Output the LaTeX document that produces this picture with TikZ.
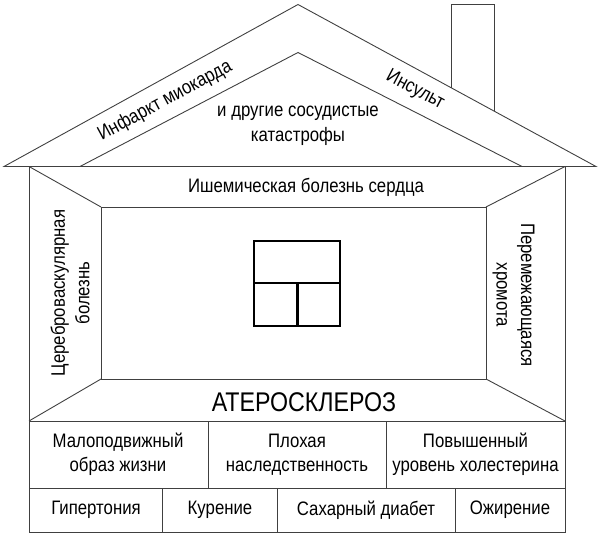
\documentclass[tikz,border=0pt]{standalone}
\usepackage{fontspec}
\setmainfont{Liberation Sans}[FakeStretch=0.86]
\begin{document}
\begin{tikzpicture}[x=1pt,y=-1pt,
  edge/.style={draw=black!75, line width=0.9pt, line join=miter},
  win/.style={draw=black, line width=2.2pt},
  lbl/.style={inner sep=0pt, align=center, font=\fontsize{19.5}{24.5}\selectfont},
  big/.style={inner sep=0pt, font=\fontsize{27}{31}\selectfont}]
\useasboundingbox (0,0) rectangle (600,537);
% key points
\coordinate (eL) at (4,166.5);
\coordinate (eR) at (596,166.5);
\coordinate (apex) at (298,4.5);
\coordinate (iL) at (80,166.5);
\coordinate (iApex) at (298,52.5);
\coordinate (iR) at (522,166.5);
\coordinate (wTL) at (29,166.5);
\coordinate (wTR) at (565,166.5);
\coordinate (wBL) at (29,532);
\coordinate (wBR) at (565,532);
\coordinate (rTL) at (101,207);
\coordinate (rTR) at (486,207);
\coordinate (rBL) at (101,379);
\coordinate (rBR) at (486,379);
\coordinate (bL) at (29,421);
\coordinate (bR) at (565,421);
\coordinate (mL) at (29,488);
\coordinate (mR) at (565,488);
% roof
\path[edge] (eL) -- (apex) -- (eR) -- cycle;
\path[edge] (iL) -- (iApex) -- (iR);
% chimney
\path[edge] (451,87.7) -- (451,4.5) -- (494,4.5) -- (494,111.0);
% walls
\path[edge] (wTL) -- (wBL) -- (wBR) -- (wTR);
% inner room
\path[edge] (rTL) rectangle (rBR);
\path[edge] (wTL) -- (rTL);
\path[edge] (wTR) -- (rTR);
\path[edge] (bL) -- (rBL);
\path[edge] (bR) -- (rBR);
\path[edge] (bL) -- (bR);
\path[edge] (mL) -- (mR);
% dividers
\path[edge] (208,421) -- (208,488);
\path[edge] (386,421) -- (386,488);
\path[edge] (162.5,488) -- (162.5,532);
\path[edge] (277,488) -- (277,532);
\path[edge] (455.5,488) -- (455.5,532);
% window
\path[win] (254,241) rectangle (340,326);
\path[win] (254,283) -- (340,283);
\path[win] (297.5,283) -- (297.5,326);
% texts
\node[lbl, rotate=28.3] (infarkt) at (165,101) {Инфаркт миокарда};
\node[lbl, rotate=-28] (insult) at (415,90) {Инсульт};
\node[lbl] (drugie) at (298,126) {и другие сосудистые\\катастрофы};
\node[lbl] (ibs) at (306,187) {Ишемическая болезнь сердца};
\node[lbl, rotate=90] (cvb) at (70,293) {Цереброваскулярная\\болезнь};
\node[lbl, rotate=-90] (hrom) at (513.5,295) {Перемежающаяся\\хромота};
\node[big] (ath) at (304,402) {АТЕРОСКЛЕРОЗ};
\node[lbl] (malo) at (118,454.5) {Малоподвижный\\образ жизни};
\node[lbl] (plox) at (297,454.5) {Плохая\\наследственность};
\node[lbl] (povy) at (475.5,454.5) {Повышенный\\уровень холестерина};
\node[lbl] (gip) at (96,510) {Гипертония};
\node[lbl] (kur) at (220,510) {Курение};
\node[lbl] (sah) at (366,510) {Сахарный диабет};
\node[lbl] (ozh) at (510,510) {Ожирение};
\end{tikzpicture}
\end{document}
